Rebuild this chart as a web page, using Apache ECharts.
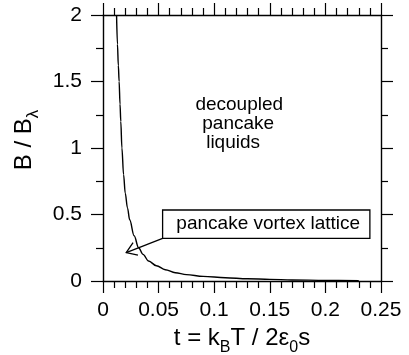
<!DOCTYPE html>
<html>
<head>
<meta charset="utf-8">
<script src="https://cdn.jsdelivr.net/npm/echarts@6/dist/echarts.min.js"></script>
<style>
  html, body { margin: 0; padding: 0; background: #fff; }
  #chart { width: 409px; height: 355px; }
</style>
</head>
<body>
<div id="chart"></div>
<script>
// Decoupling line of pancake vortices: reduced field B/B_lambda vs reduced temperature t
const tValues = [0.0122, 0.013, 0.0138, 0.0145, 0.0153, 0.016, 0.017, 0.0185, 0.02, 0.022, 0.024,
                 0.028, 0.032, 0.036, 0.041, 0.048, 0.056, 0.065, 0.075, 0.09, 0.11, 0.13,
                 0.15, 0.17, 0.2, 0.23];
const bValues = [2.0, 1.78, 1.62, 1.5, 1.33, 1.2, 1.0, 0.8, 0.66, 0.55, 0.46,
                 0.34, 0.25, 0.2, 0.15, 0.115, 0.085, 0.062, 0.048, 0.035, 0.025, 0.017,
                 0.012, 0.008, 0.005, 0.003];

const xTicks = [0, 0.05, 0.1, 0.15, 0.2, 0.25];
const yTicks = [0, 0.5, 1, 1.5, 2];

// annotation texts
const regionLines = ['decoupled', 'pancake', 'liquids'];
const latticeLabel = 'pancake vortex lattice';

// annotation anchors in (t, B) units
const regionAnchors = [[0.1225, 1.327], [0.1216, 1.184], [0.117, 1.041]];
const latticeBoxCorners = [[0.0536, 0.534], [0.240, 0.321]];
const arrowTail = [0.0536, 0.321];
const arrowHead = [0.0209, 0.214];

const FONT = "'Liberation Sans', Arial, Helvetica, sans-serif";
const INK = '#000';

const seriesData = tValues.map((t, i) => [t, bValues[i]]);

function frameAxis(showLabels, minorSplit) {
  return {
    axisLine: { show: true, onZero: false, lineStyle: { color: INK, width: 1.4 } },
    axisTick: { show: true, inside: false, length: 12, lineStyle: { color: INK, width: 1.2 } },
    minorTick: { show: true, splitNumber: minorSplit, length: 7, lineStyle: { color: INK, width: 1.2 } },
    splitLine: { show: false },
    minorSplitLine: { show: false },
    axisLabel: { show: showLabels, color: INK, fontFamily: FONT, fontSize: 21 }
  };
}

const chart = echarts.init(document.getElementById('chart'), null, { renderer: 'canvas' });

const xBase = {
  type: 'value',
  min: xTicks[0],
  max: xTicks[xTicks.length - 1],
  interval: xTicks[1] - xTicks[0]
};
const yBase = {
  type: 'value',
  min: yTicks[0],
  max: yTicks[yTicks.length - 1],
  interval: yTicks[1] - yTicks[0]
};

chart.setOption({
  animation: false,
  backgroundColor: '#fff',
  grid: { left: 103, right: 28, top: 15, bottom: 74, containLabel: false, outerBoundsMode: 'none' },
  xAxis: [
    Object.assign({}, xBase, frameAxis(true, 5), {
      position: 'bottom',
      axisLabel: { show: true, color: INK, fontFamily: FONT, fontSize: 21, margin: 19,
                   formatter: v => String(+v.toFixed(2)) },
      name: '{n|t = k}{s|B}{n|T / 2ε}{s|0}{n|s}',
      nameLocation: 'middle',
      nameGap: 31,
      nameTextStyle: {
        rich: {
          n: { fontFamily: FONT, fontSize: 24, color: INK, lineHeight: 24 },
          s: { fontFamily: FONT, fontSize: 16, color: INK, padding: [20, 0, 0, 0] }
        }
      }
    }),
    Object.assign({}, xBase, frameAxis(false, 5), { position: 'top' })
  ],
  yAxis: [
    Object.assign({}, yBase, frameAxis(true, 2), {
      position: 'left',
      axisLabel: { show: true, color: INK, fontFamily: FONT, fontSize: 21, margin: 21 },
      name: '{n|B / B}{s|λ}',
      nameLocation: 'middle',
      nameGap: 58,
      nameTextStyle: {
        padding: [0, 0, 0, 16],
        rich: {
          n: { fontFamily: FONT, fontSize: 24, color: INK, lineHeight: 24 },
          s: { fontFamily: FONT, fontSize: 17, color: INK, padding: [18, 0, 0, 0] }
        }
      }
    }),
    Object.assign({}, yBase, frameAxis(false, 2), { position: 'right' })
  ],
  series: [{
    type: 'line',
    data: seriesData,
    xAxisIndex: 0,
    yAxisIndex: 0,
    showSymbol: false,
    symbol: 'none',
    smooth: 0.35,
    smoothMonotone: 'x',
    clip: true,
    lineStyle: { color: INK, width: 1.4 }
  }]
});

// annotations placed through the axis scales
function px(p) {
  return chart.convertToPixel({ xAxisIndex: 0, yAxisIndex: 0 }, p);
}

const graphics = [];

regionLines.forEach((line, i) => {
  const p = px(regionAnchors[i]);
  graphics.push({
    type: 'text',
    x: p[0], y: p[1],
    style: {
      text: line, fill: INK, font: '19px ' + FONT,
      align: 'center', verticalAlign: 'middle',
      textAlign: 'center', textVerticalAlign: 'middle'
    },
    z: 10
  });
});

const c0 = px(latticeBoxCorners[0]);
const c1 = px(latticeBoxCorners[1]);
graphics.push({
  type: 'rect',
  shape: { x: c0[0], y: c0[1], width: c1[0] - c0[0], height: c1[1] - c0[1] },
  style: { fill: '#fff', stroke: INK, lineWidth: 1.3 },
  z: 10
});
graphics.push({
  type: 'text',
  x: (c0[0] + c1[0]) / 2 + 2, y: (c0[1] + c1[1]) / 2,
  style: {
    text: latticeLabel, fill: INK, font: '19px ' + FONT,
    align: 'center', verticalAlign: 'middle',
    textAlign: 'center', textVerticalAlign: 'middle'
  },
  z: 11
});

const tail = px(arrowTail);
const head = px(arrowHead);
const dx = tail[0] - head[0], dy = tail[1] - head[1];
const len = Math.hypot(dx, dy);
const ux = dx / len, uy = dy / len;
const wing = 12, ang = 34 * Math.PI / 180;
function rot(x, y, a) { return [x * Math.cos(a) - y * Math.sin(a), x * Math.sin(a) + y * Math.cos(a)]; }
const w1 = rot(ux, uy, ang), w2 = rot(ux, uy, -ang);
graphics.push({
  type: 'polyline',
  shape: { points: [tail, head] },
  style: { stroke: INK, lineWidth: 1.3, fill: null },
  z: 12
});
graphics.push({
  type: 'polyline',
  shape: { points: [[head[0] + w1[0] * wing, head[1] + w1[1] * wing], head,
                    [head[0] + w2[0] * wing, head[1] + w2[1] * wing]] },
  style: { stroke: INK, lineWidth: 1.3, fill: null },
  z: 12
});

chart.setOption({ graphic: graphics });
</script>
</body>
</html>
